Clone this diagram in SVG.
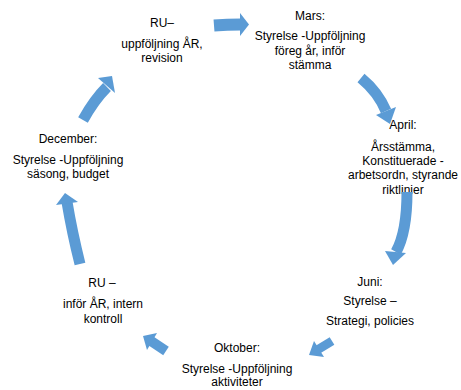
<svg xmlns="http://www.w3.org/2000/svg" width="461" height="390" viewBox="0 0 461 390">
<style>
.t{font-family:"Liberation Sans",Arial,sans-serif;font-size:12px;fill:#000;text-anchor:middle}
.b{fill:none;stroke:#5B9BD5;stroke-linecap:butt}
.h{fill:#5B9BD5}
</style>
<rect width="461" height="390" fill="#fff"/>
<g id="ru-revision">
<text class="t" x="162" y="27">RU–</text>
<text class="t" x="162" y="48">uppföljning ÅR,</text>
<text class="t" x="162" y="62">revision</text>
</g>
<g id="mars">
<text class="t" x="310" y="20">Mars:</text>
<text class="t" x="310" y="40">Styrelse -Uppföljning</text>
<text class="t" x="310" y="55">föreg år, inför</text>
<text class="t" x="310" y="69">stämma</text>
</g>
<g id="april">
<text class="t" x="403" y="129">April:</text>
<text class="t" x="403" y="151">Årsstämma,</text>
<text class="t" x="403" y="165">Konstituerade -</text>
<text class="t" x="403" y="179">arbetsordn, styrande</text>
<text class="t" x="403" y="194">riktlinier</text>
</g>
<g id="juni">
<text class="t" x="370" y="286">Juni:</text>
<text class="t" x="370" y="305">Styrelse –</text>
<text class="t" x="370" y="325">Strategi, policies</text>
</g>
<g id="oktober">
<text class="t" x="237" y="352">Oktober:</text>
<text class="t" x="237" y="373">Styrelse -Uppföljning</text>
<text class="t" x="237" y="386">aktiviteter</text>
</g>
<g id="ru-intern">
<text class="t" x="102" y="287">RU –</text>
<text class="t" x="103" y="308">inför ÅR, intern</text>
<text class="t" x="103" y="323">kontroll</text>
</g>
<g id="december">
<text class="t" x="68" y="143">December:</text>
<text class="t" x="68" y="164">Styrelse -Uppföljning</text>
<text class="t" x="68" y="178">säsong, budget</text>
</g>
<g id="connectors">
<path class="b" stroke-width="12" d="M214,25.5 Q227,24.5 241,24.5"/>
<polygon class="h" points="240,13 249,24.5 240,36"/>
<path class="b" stroke-width="11" d="M361,78 Q378,92 386,111"/>
<polygon class="h" points="376,115 396,107 390,124"/>
<path class="b" stroke-width="11" d="M407,192 Q407,232 396,252"/>
<polygon class="h" points="385,251 406,253 393,265"/>
<path class="b" stroke-width="9" d="M332,341 L318,349.5"/>
<polygon class="h" points="314,341 324,357 309,355"/>
<path class="b" stroke-width="10" d="M166,351 L151,341"/>
<polygon class="h" points="157,333 147,350 143,336"/>
<path class="b" stroke-width="11" d="M80,264 Q72,232 67,202"/>
<polygon class="h" points="78,202 56,205 65,193"/>
<path class="b" stroke-width="11" d="M83,120 Q94,100 107,87"/>
<polygon class="h" points="98,78 115,93 112,76"/>
</g>
</svg>
